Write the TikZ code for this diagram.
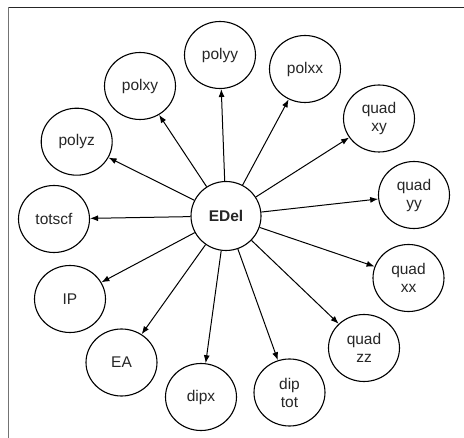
\documentclass[tikz,border=0pt]{standalone}
\usepackage{fontspec}
\setmainfont{Liberation Sans}
\usetikzlibrary{shapes.geometric,arrows.meta}
\begin{document}
\begin{tikzpicture}[x=1pt,y=-1pt,
  bub/.style={draw,line width=1.1pt,ellipse,minimum width=71pt,minimum height=67pt,inner sep=0pt,align=center,text=black!85,font=\fontsize{15.5}{18}\selectfont},
  arr/.style={-{Latex[length=8pt,width=6pt]},line width=1pt}]
\useasboundingbox (0,0) rectangle (464,438);
\fill[white] (0,0) rectangle (464,438);
\draw[line width=1.4pt,black!85] (8,7.5) -- (464,7.5);
\draw[line width=1.2pt,black!55] (8.5,7.5) -- (8.5,438);
\node[bub,minimum width=70pt,minimum height=69pt,font=\fontsize{15.5}{18}\selectfont\bfseries] (edel) at (226,216) {EDel};
\node[bub] (polyy) at (220,55) {polyy};
\node[bub] (polxx) at (305,69) {polxx};
\node[bub] (polxy) at (140,86) {polxy};
\node[bub] (polyz) at (76.7,141.7) {polyz};
\node[bub] (totscf) at (54,219) {totscf};
\node[bub] (ip) at (70,299) {IP};
\node[bub] (ea) at (121.5,362.5) {EA};
\node[bub] (dipx) at (201,397) {dipx};
\node[bub] (diptot) at (289.5,392.5) {dip\\tot};
\node[bub] (quadzz) at (364,348) {quad\\zz};
\node[bub] (quadxx) at (408.5,278) {quad\\xx};
\node[bub] (quadyy) at (414,195) {quad\\yy};
\node[bub] (quadxy) at (379,118.5) {quad\\xy};
\foreach \t in {polyy,polxx,polxy,polyz,totscf,ip,ea,dipx,diptot,quadzz,quadxx,quadyy,quadxy}
  \draw[arr] (edel) -- (\t);
\end{tikzpicture}
\end{document}
